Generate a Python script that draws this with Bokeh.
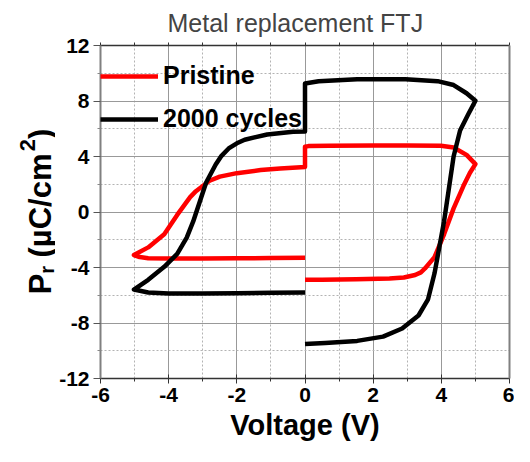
import math
from bokeh.plotting import figure
from bokeh.layouts import row
from bokeh.models import Legend, LegendItem, LinearAxis, Range1d, FixedTicker, ColumnDataSource
from bokeh.core.properties import value
from bokeh.embed import file_html
from bokeh.resources import INLINE

# ---- data ----
pristine_v = [0, -1, -2, -3, -4, -4.6, -4.85, -5.02,
              -4.6, -4.13, -3.75, -3.37, -3.2, -2.8, -2.5, -2.0, -1.3, -0.73, 0,
              0, 0.1, 0.7, 2, 3, 3.99, 4.36, 4.74, 5.0,
              4.84, 4.65, 4.36, 4.08, 3.8, 3.52, 3.4, 3.23, 2.9, 2.48, 1.5, 0.5, 0]
pristine_p = [-3.3, -3.32, -3.33, -3.35, -3.35, -3.33, -3.25, -3.1,
              -2.55, -1.61, -0.21, 1.07, 1.5, 2.25, 2.55, 2.8, 3.02, 3.13, 3.25,
              4.7, 4.75, 4.78, 4.8, 4.8, 4.78, 4.65, 4.12, 3.45,
              2.83, 1.89, 0.26, -1.61, -3.25, -4.07, -4.35, -4.54, -4.72, -4.8, -4.85, -4.88, -4.88]

cycles_v = [0, -1, -2, -3, -4, -4.6, -5.02,
            -4.6, -4.13, -3.75, -3.47, -3.28, -3.09, -2.9, -2.62, -2.45, -2.24, -2.0, -1.77, -1.11, -0.35, 0,
            0, 0.4, 1.53, 2.95, 3.89, 4.36, 4.74, 5.0,
            4.79, 4.55, 4.36, 4.22, 4.08, 3.94, 3.8, 3.61, 3.33, 2.85, 2.29, 1.53, 0.59, 0]
cycles_p = [-5.8, -5.82, -5.85, -5.87, -5.87, -5.8, -5.59,
            -4.89, -3.95, -3.02, -1.85, -0.68, 0.72, 2.13, 3.42, 4.05, 4.58, 4.95, 5.21, 5.59, 5.78, 5.8,
            9.26, 9.43, 9.57, 9.57, 9.43, 9.15, 8.56, 8.02,
            7.04, 5.87, 4.0, 1.66, -0.68, -2.55, -4.42, -6.29, -7.46, -8.4, -8.98, -9.29, -9.45, -9.52]

series_labels = ["Pristine", "2000 cycles"]
x_major = [-6, -4, -2, 0, 2, 4, 6]
x_minor = [-5, -3, -1, 1, 3, 5]
y_major = [-12, -8, -4, 0, 4, 8, 12]
y_minor = [-10, -6, -2, 2, 6, 10]

title_text = "Metal replacement FTJ"
x_title = "Voltage (V)"
# y title pieces: main "P", subscript "r", (space), main "(µC/cm", superscript "2", main ")"
y_title_parts = ["P", "r", "(µC/cm", "2", ")"]

FONT = "Liberation Sans"
W, H = 514, 446
LW = 55                     # width of the strip holding the rotated y title
BL, BR, BT, BB = 100 - LW, 5, 42, 68

# ---------------- main plot ----------------
p = figure(width=W - LW, height=H, output_backend="svg", toolbar_location=None,
           x_range=Range1d(-6, 6), y_range=Range1d(-12, 12),
           min_border_left=BL, min_border_right=BR, min_border_top=BT, min_border_bottom=BB,
           x_axis_location=None, y_axis_location=None)
p.outline_line_color = None

xt = FixedTicker(ticks=x_major, minor_ticks=x_minor)
yt = FixedTicker(ticks=y_major, minor_ticks=y_minor)

xaxis = LinearAxis(ticker=xt, axis_label=x_title)
yaxis = LinearAxis(ticker=yt)
p.add_layout(xaxis, "below")
p.add_layout(yaxis, "left")

top_axis = LinearAxis(ticker=FixedTicker(ticks=[], minor_ticks=x_minor + x_major),
                      axis_line_color="#333333", axis_line_width=1.5,
                      minor_tick_line_color="#333333", minor_tick_in=0, minor_tick_out=3)
right_axis = LinearAxis(ticker=FixedTicker(ticks=[], minor_ticks=[]), axis_line_color="#808080",
                        axis_line_width=2)
p.add_layout(top_axis, "above")
p.add_layout(right_axis, "right")

for ax, ticks in ((xaxis, x_major), (yaxis, y_major)):
    ax.major_label_overrides = {t: str(t) for t in ticks}
    ax.major_label_text_font = FONT
    ax.major_label_text_font_style = "bold"
    ax.major_label_text_font_size = "21px"
    ax.major_label_text_color = "black"
    ax.minor_tick_in = 0
    ax.minor_tick_out = 3

xaxis.axis_label_text_font = FONT
xaxis.axis_label_text_font_style = "bold"
xaxis.axis_label_text_font_size = "29px"
xaxis.axis_label_text_color = "black"
xaxis.axis_label_standoff = 4
xaxis.major_tick_in = 4
xaxis.major_tick_out = 5
xaxis.major_label_standoff = 4
xaxis.axis_line_color = "#333333"
xaxis.axis_line_width = 1.5
xaxis.major_tick_line_color = "#333333"
xaxis.minor_tick_line_color = "#333333"

yaxis.major_tick_in = 0
yaxis.major_tick_out = 7
yaxis.major_label_standoff = 4
yaxis.axis_line_color = "#808080"
yaxis.axis_line_width = 2
yaxis.major_tick_line_color = "#555555"
yaxis.minor_tick_line_color = "#888888"

for g, t in ((p.xgrid, xt), (p.ygrid, yt)):
    g.ticker = t
    g.grid_line_color = "#999999"
    g.grid_line_width = 1
    g.minor_grid_line_color = "#b3b3b3"
    g.minor_grid_line_dash = "2 2"
    g.minor_grid_line_width = 1

src_a = ColumnDataSource(data=dict(v=pristine_v, pr=pristine_p))
src_b = ColumnDataSource(data=dict(v=cycles_v, pr=cycles_p))
ra = p.line("v", "pr", source=src_a, line_color="#ff0000", line_width=4.5, line_join="round")
rb = p.line("v", "pr", source=src_b, line_color="#000000", line_width=4.5, line_join="round")

legend = Legend(items=[LegendItem(label=series_labels[0], renderers=[ra]),
                       LegendItem(label=series_labels[1], renderers=[rb])],
                location=(0, 245), margin=0, padding=2, spacing=14,
                glyph_width=58, glyph_height=28, label_height=28, label_standoff=5,
                label_text_font=FONT, label_text_font_style="bold", label_text_color="black",
                label_text_font_size="25px", border_line_color=None,
                background_fill_alpha=0)
p.add_layout(legend)

p.title.text = title_text
p.title.text_font = FONT
p.title.text_font_style = "normal"
p.title.text_font_size = "25px"
p.title.align = "left"
p.title.offset = 67
p.title.standoff = 12

# ---------------- rotated y title strip ----------------
q = figure(width=LW, height=H, output_backend="svg", toolbar_location=None,
           x_range=Range1d(0, LW), y_range=Range1d(BB, H - BT),
           min_border=0, min_border_top=BT, min_border_bottom=BB,
           x_axis_location=None, y_axis_location=None)
q.outline_line_color = None
q.xgrid.visible = False
q.ygrid.visible = False

s_main, s_sub, s_sup = 31, 20, 22
base_x = 40           # baseline column (px from left)
y0 = 293              # start (bottom) of the title (px from top)
space = 0.278 * s_main
adv = [0.667 * s_main, 0.389 * s_sub + space, 3.46 * s_main, 0.556 * s_sup, 0.333 * s_main]
sizes = [s_main, s_sub, s_main, s_sup, s_main]
shifts = [0, 6, 0, -13, 0]
pos = y0
for part, a, sz, sh in zip(y_title_parts, adv, sizes, shifts):
    q.text(x=[base_x + sh], y=[H - pos], text=[part], angle=math.pi / 2,
           text_align="left", text_baseline="alphabetic",
           text_font=value(FONT), text_font_style="bold", text_font_size=value(f"{sz}px"),
           text_color="black")
    pos -= a

layout = row(q, p, spacing=0)
open("out.html", "w").write(file_html(layout, INLINE))
